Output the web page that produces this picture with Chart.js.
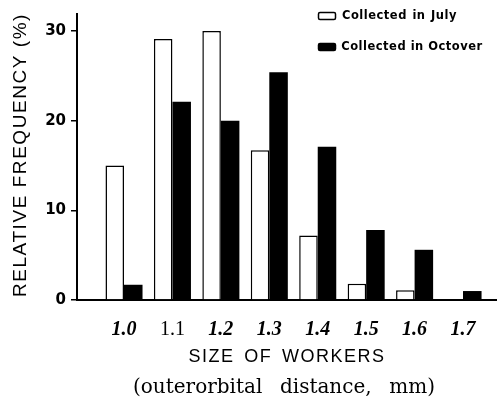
<!DOCTYPE html>
<html><head><meta charset="utf-8">
<script src="https://cdn.jsdelivr.net/npm/chart.js@4"></script>
<style>html,body{margin:0;padding:0;background:#fff;overflow:hidden}#wrap{width:497px;height:400px;position:relative}</style>
</head><body><div id="wrap"><canvas id="c" width="497" height="400"></canvas></div>
<script>
const categories = ["1.0", "1.1", "1.2", "1.3", "1.4", "1.5", "1.6", "1.7"];
const julyValues = [15.0, 29.1, 30.0, 16.7, 7.2, 1.8, 1.1, 0];
const octoberValues = [1.7, 22.1, 20.0, 25.4, 17.1, 7.8, 5.6, 1.0];
const yTicks = [0, 10, 20, 30];
const seriesNames = ["Collected in July", "Collected in Octover"];
const yTitle = "RELATIVE FREQUENCY (%)";
const xTitle = "SIZE OF WORKERS";
const xSubtitle = "(outerorbital distance, mm)";

function fitDraw(ctx, text, font, x, y, target, mode, baseLS) {
  ctx.font = font;
  ctx.letterSpacing = (baseLS || 0) + 'px';
  ctx.wordSpacing = '0px';
  const w = ctx.measureText(text).width;
  const extra = target - w;
  if (mode === 'word') {
    const n = (text.match(/ /g) || []).length;
    if (n) ctx.wordSpacing = Math.max(0, extra / n) + 'px';
  } else {
    const n = text.length;
    ctx.letterSpacing = ((baseLS || 0) + extra / n) + 'px';
  }
  ctx.textAlign = 'left';
  ctx.textBaseline = 'middle';
  const w2 = ctx.measureText(text).width;
  ctx.fillText(text, x - w2 / 2, y);
  ctx.letterSpacing = '0px';
  ctx.wordSpacing = '0px';
}

const decor = {
  id: 'decor',
  afterDraw(chart) {
    const ctx = chart.ctx;
    ctx.save();
    ctx.fillStyle = '#000';
    // y title
    ctx.save();
    ctx.translate(21, 155);
    ctx.rotate(-Math.PI / 2);
    fitDraw(ctx, yTitle, '19px "Liberation Sans"', 0, 0, 284, 'letter', 0);
    ctx.restore();
    // x titles
    fitDraw(ctx, xTitle, '18px "Liberation Sans"', 287, 357, 197, 'word', 1.5);
    fitDraw(ctx, xSubtitle, '20px "DejaVu Serif"', 284, 388, 302, 'word', 0);
    // legend
    const ds = chart.data.datasets;
    const rows = [{y: 16, w: 115}, {y: 47, w: 140}];
    rows.forEach((r, i) => {
      ctx.beginPath();
      ctx.roundRect ? ctx.roundRect(318.5, r.y - 3.5, 17, 7, 1.5) : ctx.rect(318.5, r.y - 3.5, 17, 7);
      ctx.fillStyle = ds[i].backgroundColor;
      ctx.fill();
      ctx.lineWidth = 1.5;
      ctx.strokeStyle = '#000';
      ctx.stroke();
      ctx.fillStyle = '#000';
      fitDraw(ctx, ds[i].label, 'bold 11.5px "DejaVu Sans"', 342 + r.w / 2, r.y, r.w, 'word', 0.5);
    });
    ctx.restore();
  }
};

const toPts = (vals) => categories.map((c, i) => ({x: parseFloat(c), y: vals[i]}));

new Chart(document.getElementById('c'), {
  type: 'bar',
  data: {
    datasets: [
      {label: seriesNames[0], data: toPts(julyValues), backgroundColor: '#fff', borderColor: '#000', borderWidth: 1.5, borderSkipped: 'start'},
      {label: seriesNames[1], data: toPts(octoberValues), backgroundColor: '#000', borderColor: '#000', borderWidth: 0}
    ]
  },
  options: {
    responsive: false,
    animation: false,
    devicePixelRatio: 1,
    categoryPercentage: 0.765,
    barPercentage: 1.0,
    layout: {padding: {top: 10, left: 0, right: 0, bottom: 0}},
    plugins: {legend: {display: false}, tooltip: {enabled: false}, title: {display: false}},
    scales: {
      x: {
        type: 'linear',
        offset: false,
        min: 0.90295,
        max: 1.77015,
        afterFit: (s) => { s.height = 100; },
        afterBuildTicks: (s) => { s.ticks = categories.map(c => ({value: parseFloat(c)})); },
        grid: {display: false, offset: false},
        border: {display: true, color: '#000', width: 2},
        ticks: {
          padding: 10,
          color: '#000',
          autoSkip: false,
          maxRotation: 0,
          callback: (v, i) => categories[i],
          font: (ctx) => ctx.index === 1
            ? {family: '"Liberation Serif"', size: 20, style: 'normal', weight: 'normal'}
            : {family: '"Liberation Serif"', size: 20, style: 'italic', weight: 'bold'}
        }
      },
      y: {
        min: 0,
        max: 31.9,
        afterFit: (s) => { s.width = 77; },
        afterBuildTicks: (s) => { s.ticks = yTicks.map(v => ({value: v})); },
        grid: {display: true, drawOnChartArea: false, drawTicks: true, tickLength: 6, color: '#000', lineWidth: 1.5},
        border: {display: true, color: '#000', width: 2},
        ticks: {padding: 5, color: '#000', font: {family: '"DejaVu Sans"', size: 15, weight: 'bold'}}
      }
    }
  },
  plugins: [decor]
});
</script></body></html>
